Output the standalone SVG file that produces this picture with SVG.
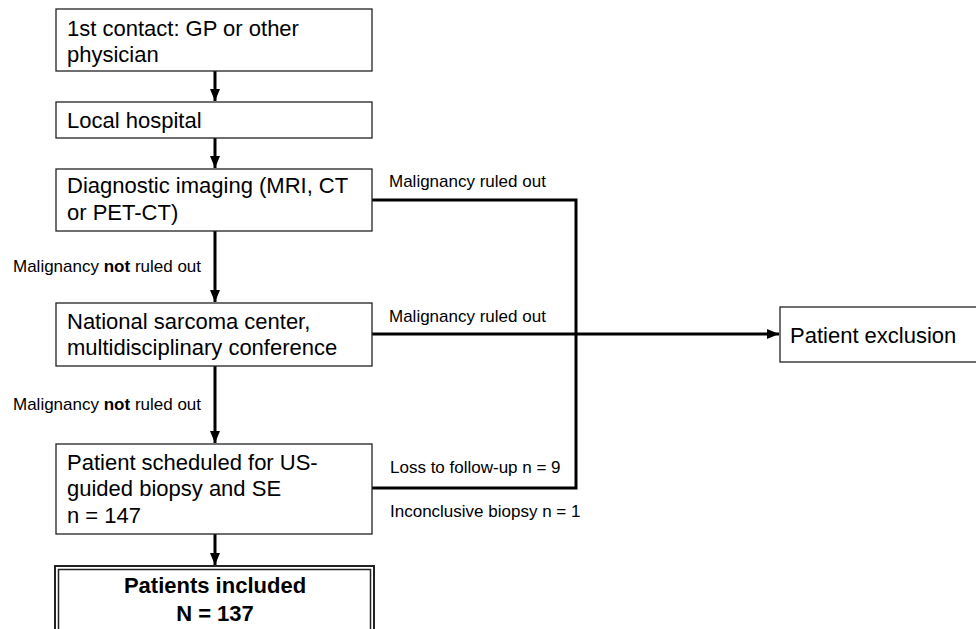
<svg xmlns="http://www.w3.org/2000/svg" width="976" height="629" viewBox="0 0 976 629">
<defs>
<style>
.box{fill:#fff;stroke:#222;stroke-width:1.3}
.t{font-family:"Liberation Sans",Arial,sans-serif;font-size:22px;fill:#000}
.tb{font-family:"Liberation Sans",Arial,sans-serif;font-size:22px;font-weight:bold;fill:#000;text-anchor:middle}
.s{font-family:"Liberation Sans",Arial,sans-serif;font-size:17px;fill:#000}
.c{fill:none;stroke:#000;stroke-width:3}
</style>
<marker id="ah" markerUnits="userSpaceOnUse" markerWidth="12" markerHeight="12" viewBox="0 0 12 12" refX="12" refY="6" orient="auto">
<path d="M0,1 L12,6 L0,11 Z" fill="#000"/>
</marker>
</defs>
<rect width="976" height="629" fill="#fff"/>

<g id="connectors">
<path class="c" d="M215,71 V101" marker-end="url(#ah)"/>
<path class="c" d="M215,138 V168" marker-end="url(#ah)"/>
<path class="c" d="M215,231 V302" marker-end="url(#ah)"/>
<path class="c" d="M215,366 V443" marker-end="url(#ah)"/>
<path class="c" d="M215,534 V565" marker-end="url(#ah)"/>
<path class="c" d="M372,200 H576 V488 H372"/>
<path class="c" d="M372,334 H779" marker-end="url(#ah)"/>
<text class="s" x="389" y="187">Malignancy ruled out</text>
<text class="s" x="389" y="322">Malignancy ruled out</text>
<text class="s" x="390" y="473">Loss to follow-up n = 9</text>
<text class="s" x="390" y="517">Inconclusive biopsy n = 1</text>
<text class="s" x="13" y="272">Malignancy <tspan font-weight="bold">not</tspan> ruled out</text>
<text class="s" x="13" y="410">Malignancy <tspan font-weight="bold">not</tspan> ruled out</text>
</g>

<g id="n1">
<rect class="box" x="56" y="9" width="316" height="62"/>
<text class="t" x="67" y="35.5">1st contact: GP or other</text>
<text class="t" x="67" y="62">physician</text>
</g>
<g id="n2">
<rect class="box" x="56" y="102" width="316" height="36"/>
<text class="t" x="67" y="128">Local hospital</text>
</g>
<g id="n3">
<rect class="box" x="56" y="169" width="316" height="62"/>
<text class="t" x="67" y="193">Diagnostic imaging (MRI, CT</text>
<text class="t" x="67" y="220">or PET-CT)</text>
</g>
<g id="n4">
<rect class="box" x="56" y="303" width="316" height="63"/>
<text class="t" x="67" y="329">National sarcoma center,</text>
<text class="t" x="67" y="355">multidisciplinary conference</text>
</g>
<g id="n5">
<rect class="box" x="56" y="444" width="316" height="90"/>
<text class="t" x="67" y="470">Patient scheduled for US-</text>
<text class="t" x="67" y="496">guided biopsy and SE</text>
<text class="t" x="67" y="522.5">n = 147</text>
</g>
<g id="n6">
<rect x="55" y="566" width="319" height="80" fill="#fff" stroke="#222" stroke-width="2"/>
<rect x="58.5" y="569.5" width="312" height="80" fill="none" stroke="#222" stroke-width="1.5"/>
<text class="tb" x="215" y="593">Patients included</text>
<text class="tb" x="215" y="621">N = 137</text>
</g>
<g id="n7">
<rect class="box" x="780" y="307" width="210" height="55"/>
<text class="t" x="790" y="343">Patient exclusion</text>
</g>
</svg>
